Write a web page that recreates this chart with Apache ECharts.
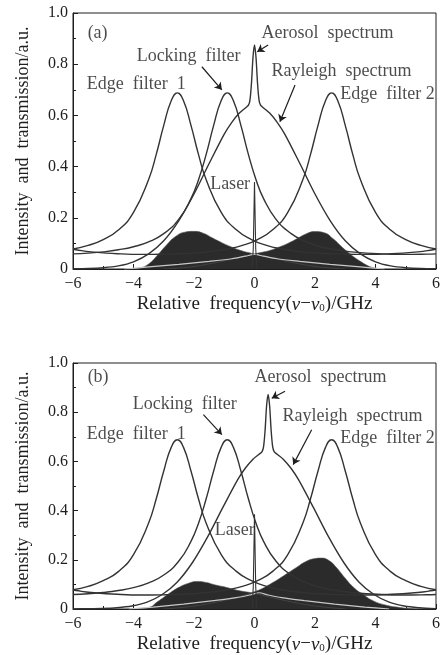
<!DOCTYPE html>
<html>
<head>
<meta charset="utf-8">
<script src="https://cdn.jsdelivr.net/npm/echarts@6/dist/echarts.min.js"></script>
<style>
  html, body { margin: 0; padding: 0; background: #fff; }
  #main { width: 445px; height: 655px; }
</style>
</head>
<body>
<div id="main"></div>
<script>
// ---- data (x in GHz, y in a.u.) ----
// filters are the same in (a) and (b)
const edgeFilter1 = [[-6,0.078],[-5.5,0.092],[-5,0.115],[-4.5,0.152],[-4,0.221],[-3.5,0.35],[-3.25,0.447],[-3,0.561],[-2.75,0.658],[-2.55,0.688],[-2.35,0.658],[-2.1,0.561],[-1.85,0.447],[-1.6,0.35],[-1.1,0.221],[-0.6,0.153],[-0.1,0.115],[0.4,0.092],[0.9,0.078],[1.4,0.069],[1.9,0.063],[2.4,0.06],[2.9,0.058],[3.4,0.057],[3.9,0.057],[4.4,0.059],[4.9,0.062],[5.4,0.067],[5.9,0.075],[6,0.077]];
const edgeFilter2 = [[-6,0.077],[-5.9,0.075],[-5.4,0.067],[-4.9,0.062],[-4.4,0.059],[-3.9,0.057],[-3.4,0.057],[-2.9,0.058],[-2.4,0.06],[-1.9,0.063],[-1.4,0.069],[-0.9,0.078],[-0.4,0.092],[0.1,0.115],[0.6,0.153],[1.1,0.221],[1.6,0.35],[1.85,0.447],[2.1,0.561],[2.35,0.658],[2.55,0.688],[2.75,0.658],[3,0.561],[3.25,0.447],[3.5,0.35],[4,0.221],[4.5,0.152],[5,0.115],[5.5,0.092],[6,0.078]];
const lockingFilter = [[-6,0.059],[-5.5,0.062],[-5,0.067],[-4.5,0.075],[-4,0.087],[-3.5,0.106],[-3,0.138],[-2.5,0.195],[-2.1,0.275],[-1.85,0.349],[-1.6,0.447],[-1.35,0.561],[-1.1,0.658],[-0.9,0.688],[-0.7,0.658],[-0.45,0.561],[-0.2,0.447],[0.05,0.349],[0.3,0.275],[0.7,0.196],[1.2,0.139],[1.7,0.107],[2.2,0.087],[2.7,0.075],[3.2,0.067],[3.7,0.062],[4.2,0.059],[4.7,0.057],[5.2,0.057],[5.7,0.058],[6,0.059]];

// Rayleigh + aerosol spectrum
const spectrumA = [[-6,0.001],[-5.5,0.002],[-5,0.005],[-4.5,0.012],[-4,0.028],[-3.5,0.059],[-3,0.11],[-2.5,0.189],[-2,0.293],[-1.5,0.412],[-1,0.527],[-0.75,0.573],[-0.5,0.609],[-0.3,0.629],[-0.2,0.64],[-0.15,0.66],[-0.1,0.726],[-0.05,0.826],[0,0.875],[0.05,0.826],[0.1,0.726],[0.15,0.66],[0.2,0.64],[0.3,0.629],[0.5,0.609],[0.75,0.573],[1,0.527],[1.5,0.412],[2,0.293],[2.5,0.189],[3,0.11],[3.5,0.059],[4,0.028],[4.5,0.012],[5,0.005],[5.5,0.002],[6,0.001]];
const spectrumB = [[-6,0.0005],[-5.55,0.001],[-5.05,0.002],[-4.55,0.005],[-4.05,0.012],[-3.55,0.028],[-3.05,0.059],[-2.55,0.11],[-2.05,0.189],[-1.55,0.293],[-1.05,0.412],[-0.55,0.527],[-0.3,0.573],[-0.05,0.609],[0.15,0.629],[0.25,0.64],[0.3,0.66],[0.35,0.726],[0.4,0.826],[0.45,0.872],[0.5,0.826],[0.55,0.726],[0.6,0.66],[0.65,0.64],[0.75,0.629],[0.95,0.609],[1.2,0.573],[1.45,0.527],[1.95,0.412],[2.45,0.293],[2.95,0.189],[3.45,0.11],[3.95,0.059],[4.45,0.028],[4.95,0.012],[5.45,0.005],[6,0.001]];

const laserA = [[-0.08,0],[-0.04,0.08],[0,0.34],[0.04,0.08],[0.08,0]];
const laserB = [[-0.08,0],[-0.04,0.09],[0,0.385],[0.04,0.09],[0.08,0]];

// transmitted signals (filled)
const signal1A = [[-4.2,0],[-3.8,0.004],[-3.5,0.02],[-3.2,0.055],[-2.9,0.095],[-2.6,0.128],[-2.3,0.144],[-2,0.147],[-1.7,0.14],[-1.4,0.122],[-1.1,0.104],[-0.8,0.088],[-0.5,0.074],[-0.2,0.064],[0.1,0.056],[0.5,0.045],[1,0.032],[1.5,0.02],[2,0.01],[2.5,0.004],[3,0]];
const signal2A = [[-3,0],[-2.5,0.004],[-2,0.01],[-1.5,0.02],[-1,0.032],[-0.5,0.045],[-0.1,0.056],[0.2,0.064],[0.5,0.072],[0.8,0.085],[1.1,0.1],[1.4,0.118],[1.7,0.137],[2,0.146],[2.3,0.142],[2.6,0.118],[2.9,0.085],[3.2,0.055],[3.5,0.03],[3.8,0.01],[4.1,0]];
const signal1B = [[-4,0],[-3.5,0.006],[-3.2,0.03],[-2.8,0.065],[-2.5,0.088],[-2.2,0.104],[-1.9,0.112],[-1.6,0.108],[-1.3,0.098],[-1,0.09],[-0.7,0.08],[-0.4,0.072],[-0.1,0.066],[0.3,0.055],[0.8,0.04],[1.3,0.027],[1.8,0.016],[2.3,0.008],[3,0]];
const signal2B = [[-3,0],[-2.5,0.005],[-2,0.012],[-1.5,0.022],[-1,0.035],[-0.5,0.05],[-0.1,0.066],[0.2,0.08],[0.5,0.1],[0.8,0.122],[1.1,0.146],[1.4,0.17],[1.7,0.193],[2,0.205],[2.2,0.207],[2.45,0.198],[2.7,0.17],[3,0.125],[3.3,0.085],[3.6,0.058],[3.9,0.035],[4.3,0.017],[4.8,0.006],[5.3,0]];

// light cusp line drawn over the fill
const cuspA = [[-4.3,0],[-3.5,0.008],[-2.5,0.018],[-1.5,0.03],[-0.75,0.04],[-0.3,0.05],[0,0.057],[0.3,0.05],[0.75,0.04],[1.5,0.03],[2.5,0.018],[3.5,0.008],[4.3,0]];
const cuspB = [[-4.15,0],[-3.35,0.008],[-2.35,0.02],[-1.35,0.034],[-0.6,0.046],[-0.15,0.057],[0.15,0.066],[0.45,0.057],[0.9,0.046],[1.65,0.034],[2.65,0.02],[3.65,0.008],[4.45,0]];

const xTicks = [-6, -4, -2, 0, 2, 4, 6];
const yTicks = [0, 0.2, 0.4, 0.6, 0.8, 1.0];

// annotations [x, y, text]
const notesA = [[-5.5,0.92,'(a)'],[0.25,0.92,'Aerosol  spectrum'],[-3.88,0.83,'Locking  filter'],[-5.53,0.72,'Edge  filter  1'],[0.58,0.77,'Rayleigh  spectrum'],[2.85,0.68,'Edge  filter 2'],[-1.45,0.33,'Laser']];
const notesB = [[-5.5,0.94,'(b)'],[0.02,0.94,'Aerosol  spectrum'],[-4.01,0.83,'Locking  filter'],[-5.53,0.71,'Edge  filter  1'],[0.94,0.78,'Rayleigh  spectrum'],[2.85,0.69,'Edge  filter 2'],[-1.3,0.32,'Laser']];
const arrowsA = [[[0.45,0.875],[0.09,0.849]],[[-1.74,0.79],[-1.08,0.70]],[[1.34,0.719],[0.84,0.575]]];
const arrowsB = [[[1.01,0.885],[0.57,0.857]],[[-1.69,0.79],[-1.08,0.709]],[[1.89,0.729],[1.28,0.587]]];

const FONT = 'Liberation Serif';
const INK = '#1e1e1e';

const chart = echarts.init(document.getElementById('main'));

function xAxisFor(gi) {
  return {
    type: 'value', gridIndex: gi, min: -6, max: 6, interval: 2,
    name: '{n|Relative  frequency(}{i|ν}{n|−}{i|ν}{s|0}{n|)/GHz}',
    nameLocation: 'middle', nameGap: 26,
    nameTextStyle: {
      rich: {
        n: { fontFamily: FONT, fontSize: 19, color: INK },
        i: { fontFamily: FONT, fontSize: 19, color: INK, fontStyle: 'italic' },
        s: { fontFamily: FONT, fontSize: 11, color: INK, verticalAlign: 'bottom', padding: [7, 0, 0, 0] }
      }
    },
    axisLine: { onZero: false, lineStyle: { color: INK } },
    axisTick: { inside: true, length: 5, lineStyle: { color: INK } },
    minorTick: { show: true, splitNumber: 2, length: 3, lineStyle: { color: INK } },
    splitLine: { show: false },
    axisLabel: {
      fontFamily: FONT, fontSize: 16, color: INK, margin: 7,
      formatter: v => xTicks.includes(v) ? String(v).replace('-', '−') : ''
    }
  };
}

function yAxisFor(gi) {
  return {
    type: 'value', gridIndex: gi, min: 0, max: 1, interval: 0.2,
    name: 'Intensity  and  transmission/a.u.',
    nameLocation: 'middle', nameGap: 41,
    nameTextStyle: { fontFamily: FONT, fontSize: 18, color: INK },
    axisLine: { show: true, onZero: false, lineStyle: { color: INK } },
    axisTick: { inside: true, length: 5, lineStyle: { color: INK } },
    minorTick: { show: true, splitNumber: 2, length: 3, lineStyle: { color: INK } },
    splitLine: { show: false },
    axisLabel: {
      fontFamily: FONT, fontSize: 16, color: INK, margin: 5,
      formatter: v => v === 0 ? '0' : (yTicks.some(t => Math.abs(t - v) < 1e-9) ? v.toFixed(1) : '')
    }
  };
}

function curve(data, gi, extra) {
  return Object.assign({
    type: 'line', data: data, xAxisIndex: gi, yAxisIndex: gi,
    showSymbol: false, symbol: 'none', smooth: 0.5, z: 5,
    lineStyle: { color: '#333', width: 1.4 }
  }, extra || {});
}

function fill(data, gi) {
  return curve(data, gi, {
    z: 2, smooth: 0.5,
    lineStyle: { color: '#555', width: 0.6 },
    areaStyle: { color: '#2b2b2b', opacity: 1 }
  });
}

function notes(data, arrows, gi) {
  return {
    type: 'scatter', xAxisIndex: gi, yAxisIndex: gi, z: 10,
    symbolSize: 1, itemStyle: { color: 'rgba(0,0,0,0)' },
    data: data,
    label: {
      show: true, position: [0, 0], align: 'left', verticalAlign: 'middle',
      fontFamily: FONT, fontSize: 18, color: INK,
      formatter: p => p.value[2]
    },
    markLine: {
      silent: true, symbol: ['none', 'arrow'], symbolSize: 7,
      lineStyle: { color: INK, width: 1.2, type: 'solid' },
      label: { show: false },
      data: arrows.map(a => [{ coord: a[0] }, { coord: a[1] }])
    }
  };
}

const grids = [
  { left: 73, width: 363, top: 13, height: 256 },
  { left: 73, width: 363, top: 363, height: 246 }
].map(g => Object.assign(g, { show: true, borderColor: INK, borderWidth: 1, backgroundColor: 'transparent' }));

const option = {
  animation: false,
  backgroundColor: '#fff',
  grid: grids,
  xAxis: [xAxisFor(0), xAxisFor(1)],
  yAxis: [yAxisFor(0), yAxisFor(1)],
  series: [
    // (a)
    fill(signal1A, 0), fill(signal2A, 0),
    curve(cuspA, 0, { z: 3, smooth: 0.3, lineStyle: { color: '#c8c8c8', width: 1.2 } }),
    curve(edgeFilter1, 0), curve(lockingFilter, 0), curve(edgeFilter2, 0),
    curve(spectrumA, 0, { smooth: 0.3 }),
    curve(laserA, 0, { smooth: false, lineStyle: { color: '#333', width: 1.1 } }),
    notes(notesA, arrowsA, 0),
    // (b)
    fill(signal1B, 1), fill(signal2B, 1),
    curve(cuspB, 1, { z: 3, smooth: 0.3, lineStyle: { color: '#c8c8c8', width: 1.2 } }),
    curve(edgeFilter1, 1), curve(lockingFilter, 1), curve(edgeFilter2, 1),
    curve(spectrumB, 1, { smooth: 0.3 }),
    curve(laserB, 1, { smooth: false, lineStyle: { color: '#333', width: 1.1 } }),
    notes(notesB, arrowsB, 1)
  ]
};
chart.setOption(option);
</script>
</body>
</html>
